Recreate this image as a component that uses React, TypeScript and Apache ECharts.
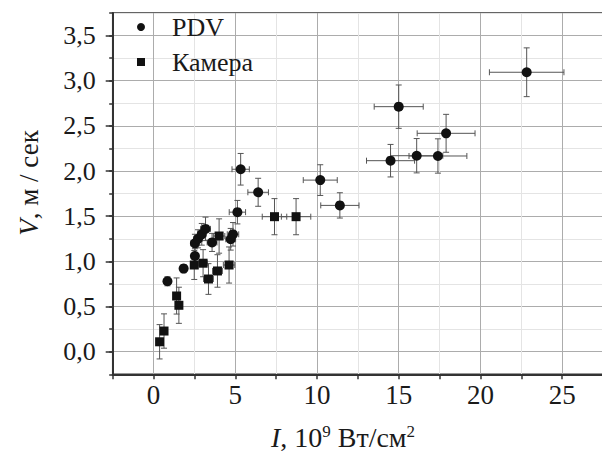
import React, { useEffect, useRef } from 'react';
import * as echarts from 'echarts';

// PDV measurements
const pdvX = [0.85, 1.84, 2.53, 2.53, 2.72, 2.95, 3.18, 3.58, 4.72, 4.86, 5.13, 5.33, 6.4, 10.2, 11.4, 14.5, 15.0, 16.1, 17.4, 17.9, 22.83];
const pdvY = [0.78, 0.92, 1.06, 1.2, 1.25, 1.3, 1.36, 1.21, 1.245, 1.3, 1.545, 2.02, 1.765, 1.9, 1.62, 2.115, 2.713, 2.17, 2.167, 2.418, 3.094];
const pdvXErr = [0.15, 0.2, 0.2, 0.25, 0.25, 0.25, 0.3, 0.3, 0.3, 0.35, 0.5, 0.53, 0.63, 1.04, 1.17, 1.47, 1.5, 1.6, 1.77, 1.77, 2.28];
const pdvYErr = [0.05, 0.045, 0.08, 0.1, 0.1, 0.12, 0.13, 0.1, 0.12, 0.13, 0.13, 0.175, 0.155, 0.17, 0.14, 0.18, 0.24, 0.19, 0.19, 0.21, 0.27];

// Camera measurements
const camX = [0.37, 0.64, 1.41, 1.55, 2.49, 3.03, 3.36, 3.91, 4.01, 4.62, 7.4, 8.72];
const camY = [0.11, 0.229, 0.617, 0.514, 0.96, 0.98, 0.805, 0.894, 1.281, 0.96, 1.495, 1.495];
const camXErr = [0.1, 0.12, 0.15, 0.15, 0.2, 0.25, 0.3, 0.3, 0.35, 0.35, 0.75, 0.9];
const camYErr = [0.19, 0.19, 0.2, 0.2, 0.16, 0.15, 0.17, 0.18, 0.19, 0.2, 0.2, 0.2];

const yMajorTicks = [0, 0.5, 1, 1.5, 2, 2.5, 3, 3.5];
const xMajorTicks = [0, 5, 10, 15, 20, 25];

const FONT = 'Liberation Serif';
const TEXT = '#1a1a1a';

function errorSeries(name: string, xs: number[], ys: number[], xe: number[], ye: number[]) {
  return {
    type: 'custom',
    name,
    silent: true,
    z: 1,
    data: xs.map((x, i) => [x, ys[i], xe[i], ye[i]]),
    encode: { x: 0, y: 1 },
    renderItem: (params: any, api: any) => {
      const x = api.value(0);
      const y = api.value(1);
      const dx = api.value(2);
      const dy = api.value(3);
      const l = api.coord([x - dx, y]);
      const r = api.coord([x + dx, y]);
      const t = api.coord([x, y + dy]);
      const b = api.coord([x, y - dy]);
      const cap = 3;
      const style = { stroke: '#555', lineWidth: 1, fill: null };
      const ln = (x1: number, y1: number, x2: number, y2: number) => ({
        type: 'line',
        shape: { x1, y1, x2, y2 },
        style,
      });
      return {
        type: 'group',
        children: [
          ln(l[0], l[1], r[0], r[1]),
          ln(l[0], l[1] - cap, l[0], l[1] + cap),
          ln(r[0], r[1] - cap, r[0], r[1] + cap),
          ln(t[0], t[1], b[0], b[1]),
          ln(t[0] - cap, t[1], t[0] + cap, t[1]),
          ln(b[0] - cap, b[1], b[0] + cap, b[1]),
        ],
      };
    },
  };
}

export default function App() {
  const ref = useRef<HTMLDivElement>(null);
  useEffect(() => {
    if (!ref.current) return;
    const chart = echarts.init(ref.current, undefined, { renderer: 'svg' });
    chart.setOption({
      animation: false,
      backgroundColor: '#ffffff',
      textStyle: { fontFamily: FONT, color: TEXT },
      grid: {
        left: 112.7,
        right: 1,
        top: 13,
        bottom: 77.7,
        show: true,
        borderColor: '#333',
        borderWidth: 1.5,
      },
      legend: {
        data: [
          { name: 'PDV', icon: 'circle' },
          { name: 'Камера', icon: 'rect' },
        ],
        orient: 'vertical',
        left: 137,
        top: 14,
        padding: 0,
        itemWidth: 8,
        itemHeight: 8,
        itemGap: 9,
        selectedMode: false,
        textStyle: {
          fontFamily: FONT,
          fontSize: 26,
          lineHeight: 25,
          color: TEXT,
          padding: [0, 0, 0, 22],
        },
      },
      xAxis: {
        type: 'value',
        min: -2.5,
        max: 27.5,
        interval: 2.5,
        axisLine: { show: true, onZero: false, lineStyle: { color: '#333', width: 2 } },
        axisTick: { show: true, length: 5, lineStyle: { color: '#333', width: 1.5 } },
        axisLabel: {
          fontFamily: FONT,
          fontSize: 27,
          color: TEXT,
          margin: 7,
          formatter: (v: number) => (xMajorTicks.includes(v) ? String(v) : ''),
        },
        splitLine: {
          show: true,
          lineStyle: { color: ['#e4e4e4', '#acacac'], width: 1 },
        },
      },
      yAxis: [
        {
          type: 'value',
          min: -0.25,
          max: 3.75,
          interval: 0.25,
          axisLine: { show: true, onZero: false, lineStyle: { color: '#333', width: 2 } },
          axisTick: { show: true, length: 3.5, lineStyle: { color: '#333', width: 1.5 } },
          axisLabel: {
            fontFamily: FONT,
            fontSize: 26,
            color: TEXT,
            margin: 17,
            formatter: (v: number) =>
              yMajorTicks.includes(v) ? v.toFixed(1).replace('.', ',') : '',
          },
          splitLine: {
            show: true,
            lineStyle: { color: ['#e4e4e4', '#acacac'], width: 1 },
          },
        },
        {
          type: 'value',
          position: 'left',
          min: -0.25,
          max: 3.75,
          axisLine: { show: false, onZero: false },
          axisTick: {
            show: true,
            length: 7,
            customValues: yMajorTicks,
            lineStyle: { color: '#333', width: 1.5 },
          },
          axisLabel: { show: false },
          splitLine: { show: false },
        },
      ],
      graphic: [
        {
          type: 'text',
          x: 343,
          y: 437,
          style: {
            text: '{it|I}, 10{sup|9} Вт/см{sup|2}',
            align: 'center',
            verticalAlign: 'middle',
            fontFamily: FONT,
            fontSize: 28,
            fill: TEXT,
            rich: {
              it: { fontFamily: FONT, fontSize: 28, fontStyle: 'italic', fill: TEXT },
              sup: { fontFamily: FONT, fontSize: 17, fill: TEXT, verticalAlign: 'top' },
            },
          },
        },
        {
          type: 'text',
          x: 29,
          y: 183,
          rotation: Math.PI / 2,
          style: {
            text: '{it|V}, м / сек',
            align: 'center',
            verticalAlign: 'middle',
            fontFamily: FONT,
            fontSize: 27,
            fill: TEXT,
            rich: {
              it: { fontFamily: FONT, fontSize: 27, fontStyle: 'italic', fill: TEXT },
            },
          },
        },
      ],
      series: [
        errorSeries('PDV-err', pdvX, pdvY, pdvXErr, pdvYErr),
        errorSeries('Камера-err', camX, camY, camXErr, camYErr),
        {
          type: 'scatter',
          name: 'PDV',
          symbol: 'circle',
          symbolSize: 10,
          z: 3,
          itemStyle: { color: '#111', opacity: 1 },
          data: pdvX.map((x, i) => [x, pdvY[i]]),
        },
        {
          type: 'scatter',
          name: 'Камера',
          symbol: 'rect',
          symbolSize: 9,
          z: 3,
          itemStyle: { color: '#111', opacity: 1 },
          data: camX.map((x, i) => [x, camY[i]]),
        },
      ],
    });
    return () => chart.dispose();
  }, []);
  return (
    <div
      style={{
        position: 'absolute',
        left: 0,
        top: 0,
        width: 602,
        height: 452,
        overflow: 'hidden',
        background: '#fff',
      }}
    >
      <div ref={ref} style={{ width: 606, height: 452 }} />
    </div>
  );
}
